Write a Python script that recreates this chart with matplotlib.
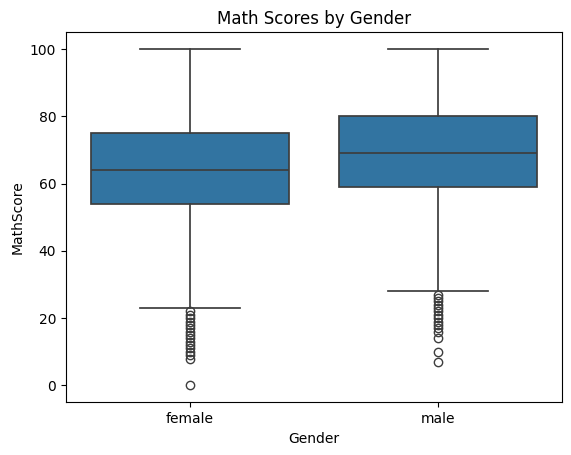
import matplotlib
matplotlib.use('Agg')
import matplotlib.pyplot as plt

# box statistics
genders = ['female', 'male']
whisker_low = [23, 28]
q1 = [54, 59]
medians = [64, 69]
q3 = [75, 80]
whisker_high = [100, 100]
fliers = [
    [22, 21, 20, 19, 18, 17, 16, 15, 14, 13, 12, 11, 10, 9, 8, 0],
    [27, 26, 25, 24, 23, 22, 21, 20, 19, 18, 17, 16, 14, 10, 7],
]

stats = []
for i, g in enumerate(genders):
    stats.append({
        'label': g,
        'whislo': whisker_low[i],
        'q1': q1[i],
        'med': medians[i],
        'q3': q3[i],
        'whishi': whisker_high[i],
        'fliers': fliers[i],
    })

fig = plt.figure(figsize=(5.71, 4.55), dpi=100)
ax = fig.add_axes([0.1156, 0.1158, 0.8686, 0.8132])

line_c = '#3d3d3d'
box_c = '#3274a1'
ax.bxp(stats, positions=range(len(genders)), widths=0.8, patch_artist=True,
       boxprops=dict(facecolor=box_c, edgecolor=line_c, linewidth=1.25),
       medianprops=dict(color=line_c, linewidth=1.25),
       whiskerprops=dict(color=line_c, linewidth=1.25),
       capprops=dict(color=line_c, linewidth=1.25),
       flierprops=dict(marker='o', markerfacecolor='none', markeredgecolor=line_c,
                       markersize=6, linewidth=0))

ax.set_xlim(-0.5, 1.5)
ax.set_ylim(-5, 105)
ax.set_xticks(range(len(genders)))
ax.set_xticklabels(genders)
ax.set_xlabel('Gender')
ax.set_ylabel('MathScore')
ax.set_title('Math Scores by Gender')

fig.savefig('out.png', dpi=100)
